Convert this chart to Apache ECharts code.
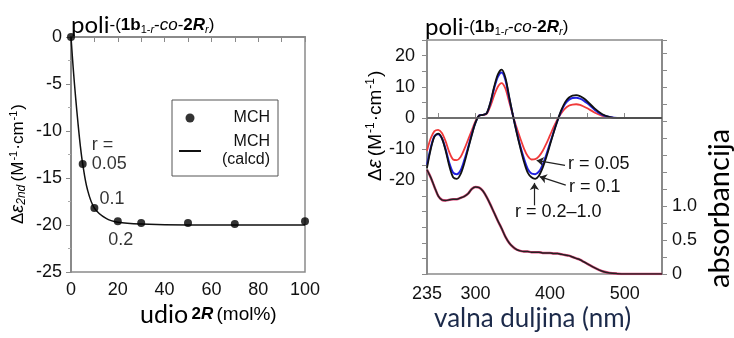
<!DOCTYPE html>
<html>
<head>
<meta charset="utf-8">
<script src="https://cdn.jsdelivr.net/npm/echarts@6/dist/echarts.min.js"></script>
<style>
  html, body { margin: 0; padding: 0; background: #fff; }
  #main { width: 734px; height: 338px; }
</style>
</head>
<body>
<div id="main"></div>
<script>
// lijevi graf: udio 2R (mol%) prema delta eps 2nd
var udio = [0, 5, 10, 20, 30, 50, 70, 100];
var deltaEps = [0, -13.5, -18.2, -19.6, -19.8, -19.8, -19.9, -19.6];
var fitUdio = [0, 1, 2, 3, 4, 5, 7, 10, 15, 20, 30, 50, 70, 100];
var fitEps = [0, -3.5, -6.5, -9.2, -11.6, -13.5, -16.2, -18.2, -19.3, -19.7, -19.9, -20, -20, -20];

// desni graf: CD i UV spektri
var valna = [235, 240, 245, 250, 255, 260, 265, 270, 275, 280, 285, 290, 295, 300, 305, 310, 315, 320, 325, 330,
             335, 340, 345, 350, 355, 360, 365, 370, 375, 380, 385, 390, 395, 400, 405, 410, 415, 420, 425, 430,
             435, 440, 445, 450, 460, 470, 480, 490, 500, 520, 550];
var cdR02 = [-16, -10, -6, -5, -6.5, -10.5, -15.5, -19, -19.5, -18, -14.5, -10, -5.5, -1.5, 0.8, 1, 1.5, 5, 10, 14,
             15.5, 13, 7, 1, -4.5, -9.5, -14, -17.5, -19, -19.5, -18.5, -16, -12.5, -8.5, -4.5, -0.8, 2.5, 5, 6.5, 7.2,
             7.3, 7, 6.3, 5.3, 3, 1.2, 0.3, 0, 0, 0, 0];
var cdR01 = [-15, -9.5, -5.8, -5.2, -6.5, -10, -14.5, -17.5, -18, -16.8, -13.5, -9.5, -5.2, -1.5, 0.8, 1, 1.5, 4.8, 9.5, 13.2,
             14.6, 12.3, 6.6, 1, -4.2, -9, -13, -16.3, -17.8, -18, -17.2, -15, -11.7, -8, -4.3, -0.8, 2.2, 4.5, 5.8, 6.4,
             6.5, 6.2, 5.6, 4.7, 2.6, 1, 0.3, 0, 0, 0, 0];
var cdR005 = [-10.5, -6.5, -4.2, -3.8, -4.8, -7.5, -11, -13.3, -13.5, -12.5, -10, -7, -4, -1, 0.8, 1, 1.3, 3.8, 7.2, 10,
              11.2, 9.5, 5.3, 1, -3, -6.5, -9.8, -12.2, -13.3, -13.2, -12.3, -10.6, -8.2, -5.5, -2.8, -0.4, 1.5, 3, 3.9, 4.3,
              4.4, 4.2, 3.7, 3.1, 1.7, 0.7, 0.2, 0, 0, 0, 0];
var absorb = [1.53, 1.42, 1.28, 1.15, 1.09, 1.08, 1.09, 1.1, 1.1, 1.12, 1.14, 1.18, 1.25, 1.28, 1.27, 1.22, 1.13, 1.02, 0.9, 0.78,
              0.67, 0.55, 0.46, 0.4, 0.36, 0.34, 0.33, 0.33, 0.32, 0.32, 0.32, 0.31, 0.31, 0.31, 0.3, 0.3, 0.29, 0.28, 0.27, 0.25,
              0.23, 0.21, 0.18, 0.15, 0.09, 0.04, 0.015, 0.005, 0, 0, 0];
var valnaLabels = [235, 300, 400, 500];
var valnaTicks = [235, 250, 300, 350, 400, 450, 500, 550];

function pairs(xs, ys) {
    return xs.map(function (x, i) { return [x, ys[i]]; });
}

var chart = echarts.init(document.getElementById('main'));

var axisGray = '#8a8a8a';
var txt = '#111';
var navy = '#2a4a88';
var sansFont = 'Liberation Sans';
var calibriLike = 'Lato';

var rich = {
    p: { fontFamily: calibriLike, fontSize: 24, color: navy },
    a: { fontFamily: sansFont, fontSize: 17, color: txt },
    b: { fontFamily: sansFont, fontSize: 17, fontWeight: 'bold', color: txt },
    i: { fontFamily: sansFont, fontSize: 17, fontStyle: 'italic', color: txt },
    bi: { fontFamily: sansFont, fontSize: 17, fontWeight: 'bold', fontStyle: 'italic', color: txt },
    s: { fontFamily: sansFont, fontSize: 11, color: txt, padding: [9, 0, 0, 0] },
    si: { fontFamily: sansFont, fontSize: 11, fontStyle: 'italic', color: txt, padding: [9, 0, 0, 0] },
    u: { fontFamily: calibriLike, fontSize: 25, color: navy },
    ub: { fontFamily: sansFont, fontSize: 17, fontWeight: 'bold', color: txt },
    ubi: { fontFamily: sansFont, fontSize: 17, fontWeight: 'bold', fontStyle: 'italic', color: txt },
    um: { fontFamily: sansFont, fontSize: 19, color: txt },
    y: { fontFamily: sansFont, fontSize: 17, color: txt },
    yi: { fontFamily: sansFont, fontSize: 18, fontStyle: 'italic', color: txt },
    ys: { fontFamily: sansFont, fontSize: 12, fontStyle: 'italic', color: txt, padding: [8, 0, 0, 0] },
    yp: { fontFamily: sansFont, fontSize: 11, color: txt, padding: [0, 1, 8, 1] },
    ry: { fontFamily: sansFont, fontSize: 19, color: txt },
    ryi: { fontFamily: sansFont, fontSize: 20, fontStyle: 'italic', color: txt },
    ryp: { fontFamily: sansFont, fontSize: 12, color: txt, padding: [0, 1, 9, 1] },
    ab: { fontFamily: calibriLike, fontSize: 29, color: navy }
};
var titleText = '{p|poli}{a|-(}{b|1b}{s|1-}{si|r}{a|-}{i|co}{a|-}{b|2}{bi|R}{si|r}{a|)}';

chart.setOption({
    animation: false,
    textStyle: { fontFamily: sansFont },
    grid: [
        { left: 71, top: 37, width: 234, height: 235, show: true, borderColor: axisGray, borderWidth: 1.5 },
        { left: 427, top: 40, width: 235, height: 234, show: true, borderColor: axisGray, borderWidth: 1.5 }
    ],
    legend: {
        left: 172,
        top: 100,
        orient: 'vertical',
        padding: [10, 8, 8, 6],
        itemGap: 8,
        itemWidth: 22,
        itemHeight: 9,
        borderColor: '#555',
        borderWidth: 1,
        data: [
            { name: 'MCH' },
            { name: 'MCH (calcd)', itemStyle: { color: 'rgba(0,0,0,0)', borderWidth: 0, opacity: 0 } }
        ],
        formatter: function (name) {
            return name === 'MCH' ? '{t|MCH}' : '{t|MCH}\n{t|(calcd)}';
        },
        textStyle: {
            rich: { t: { width: 64, align: 'right', fontSize: 16, lineHeight: 18, color: txt, fontFamily: sansFont } }
        }
    },
    xAxis: [{
        gridIndex: 0, type: 'value', min: 0, max: 100, interval: 10,
        axisLine: { lineStyle: { color: axisGray, width: 2 } },
        axisTick: { length: 5, lineStyle: { color: axisGray } },
        axisLabel: {
            fontSize: 18, color: txt, margin: 9,
            formatter: function (v) { return v % 20 === 0 ? v : ''; }
        },
        splitLine: { show: false }
    }, {
        gridIndex: 1, type: 'value', min: 235, max: 550,
        axisLine: { lineStyle: { color: axisGray, width: 2 } },
        axisTick: { inside: true, length: 5, customValues: valnaTicks, lineStyle: { color: axisGray } },
        axisLabel: { fontSize: 18, color: txt, margin: 11, customValues: valnaLabels },
        splitLine: { show: false }
    }],
    yAxis: [{
        gridIndex: 0, type: 'value', min: -25, max: 0, interval: 5,
        axisLine: { show: true, lineStyle: { color: axisGray, width: 2 } },
        axisTick: { show: true, length: 5, lineStyle: { color: axisGray } },
        minorTick: { show: true, splitNumber: 2, length: 3, lineStyle: { color: '#aaa' } },
        axisLabel: { fontSize: 18, color: txt, margin: 9 },
        splitLine: { show: false }
    }, {
        gridIndex: 1, type: 'value', min: -50, max: 25, interval: 5,
        axisLine: { show: true, lineStyle: { color: axisGray, width: 2 } },
        axisTick: { show: true, length: 5, lineStyle: { color: axisGray } },
        axisLabel: {
            fontSize: 18, color: txt, margin: 12,
            formatter: function (v) { return (v >= -20 && v <= 20 && v % 10 === 0) ? v : ''; }
        },
        splitLine: { show: false }
    }, {
        gridIndex: 1, type: 'value', position: 'right', min: 0, max: 3.44, interval: 0.25,
        axisLine: { show: true, lineStyle: { color: axisGray, width: 2 } },
        axisTick: { show: true, length: 5, lineStyle: { color: axisGray } },
        axisLabel: {
            fontSize: 18, color: txt, margin: 10,
            formatter: function (v) {
                if (v === 0) return '0';
                if (v === 0.5 || v === 1) return v.toFixed(1);
                return '';
            }
        },
        splitLine: { show: false }
    }],
    series: [{
        name: 'MCH (calcd)',
        type: 'line',
        xAxisIndex: 0, yAxisIndex: 0,
        data: pairs(fitUdio, fitEps),
        smooth: 0.35,
        symbol: 'none',
        lineStyle: { color: '#111', width: 1.5 },
        itemStyle: { color: '#111' }
    }, {
        name: 'MCH',
        type: 'scatter',
        xAxisIndex: 0, yAxisIndex: 0,
        data: pairs(udio, deltaEps).map(function (d, i) {
            var item = { value: d };
            if (i === 1) item.label = { show: true, formatter: 'r =\n0.05', position: 'right', offset: [0, -9], align: 'left', lineHeight: 19 };
            if (i === 2) item.label = { show: true, formatter: '0.1', position: 'right', offset: [-4, -9] };
            if (i === 3) item.label = { show: true, formatter: '0.2', position: 'bottom', offset: [3, 1] };
            return item;
        }),
        symbolSize: 8,
        itemStyle: { color: '#000' },
        label: { fontSize: 18, color: '#000', fontFamily: sansFont },
        z: 5
    }, {
        name: 'abs crvena',
        type: 'line',
        xAxisIndex: 1, yAxisIndex: 2,
        data: pairs(valna, absorb),
        smooth: 0.3,
        symbol: 'none',
        lineStyle: { color: '#e0457a', width: 2.5 }
    }, {
        name: 'abs',
        type: 'line',
        xAxisIndex: 1, yAxisIndex: 2,
        data: pairs(valna, absorb),
        smooth: 0.3,
        symbol: 'none',
        lineStyle: { color: '#222', width: 1.5 }
    }, {
        name: 'r = 0.05',
        type: 'line',
        xAxisIndex: 1, yAxisIndex: 1,
        data: pairs(valna, cdR005),
        smooth: 0.3,
        symbol: 'none',
        lineStyle: { color: '#f03a3a', width: 1.8 },
        markLine: {
            silent: true,
            symbol: 'none',
            label: { show: false },
            lineStyle: { color: '#666', width: 1.5, type: 'solid' },
            data: [{ yAxis: 0 }]
        }
    }, {
        name: 'r = 0.1',
        type: 'line',
        xAxisIndex: 1, yAxisIndex: 1,
        data: pairs(valna, cdR01),
        smooth: 0.3,
        symbol: 'none',
        lineStyle: { color: '#2020e0', width: 2 }
    }, {
        name: 'r = 0.2-1.0',
        type: 'line',
        xAxisIndex: 1, yAxisIndex: 1,
        data: pairs(valna, cdR02),
        smooth: 0.3,
        symbol: 'none',
        lineStyle: { color: '#111', width: 1.8 },
        markLine: {
            silent: true,
            symbol: ['none', 'arrow'],
            symbolSize: 7,
            label: { show: false },
            lineStyle: { color: '#222', width: 1.2, type: 'solid' },
            data: [
                [{ coord: [420, -15.2] }, { coord: [382, -13.6] }],
                [{ coord: [421, -21.5] }, { coord: [386, -18.8] }],
                [{ coord: [379, -28] }, { coord: [379, -20.8] }]
            ]
        }
    }],
    graphic: [
        { type: 'text', left: 71, top: 13, style: { text: titleText, rich: rich } },
        { type: 'text', left: 425, top: 15, style: { text: titleText, rich: rich } },
        {
            type: 'text', left: 140, top: 302,
            style: { text: '{u|udio} {ub|2}{ubi|R} {um|(mol%)}', rich: rich }
        },
        {
            type: 'text', left: 434, top: 306,
            style: { text: 'valna duljina (nm)', font: '26px Lato', fill: '#1c2a4a' }
        },
        {
            type: 'text', x: 8, y: 224, rotation: Math.PI / 2,
            style: { text: '{y|Δ}{yi|ε}{ys|2nd} {y|(M}{yp|-1}{y|·cm}{yp|-1}{y|)}', rich: rich }
        },
        {
            type: 'text', x: 365, y: 181, rotation: Math.PI / 2,
            style: { text: '{ry|Δ}{ryi|ε} {ry|(M}{ryp|-1}{ry|·cm}{ryp|-1}{ry|)}', rich: rich }
        },
        {
            type: 'text', x: 705, y: 288, rotation: Math.PI / 2,
            style: { text: '{ab|absorbancija}', rich: rich }
        },
        { type: 'text', left: 568, top: 155, style: { text: 'r = 0.05', font: '18px "Liberation Sans"', fill: txt } },
        { type: 'text', left: 569, top: 178, style: { text: 'r = 0.1', font: '18px "Liberation Sans"', fill: txt } },
        { type: 'text', left: 515, top: 203, style: { text: 'r = 0.2–1.0', font: '18px "Liberation Sans"', fill: txt } }
    ]
});
</script>
</body>
</html>
